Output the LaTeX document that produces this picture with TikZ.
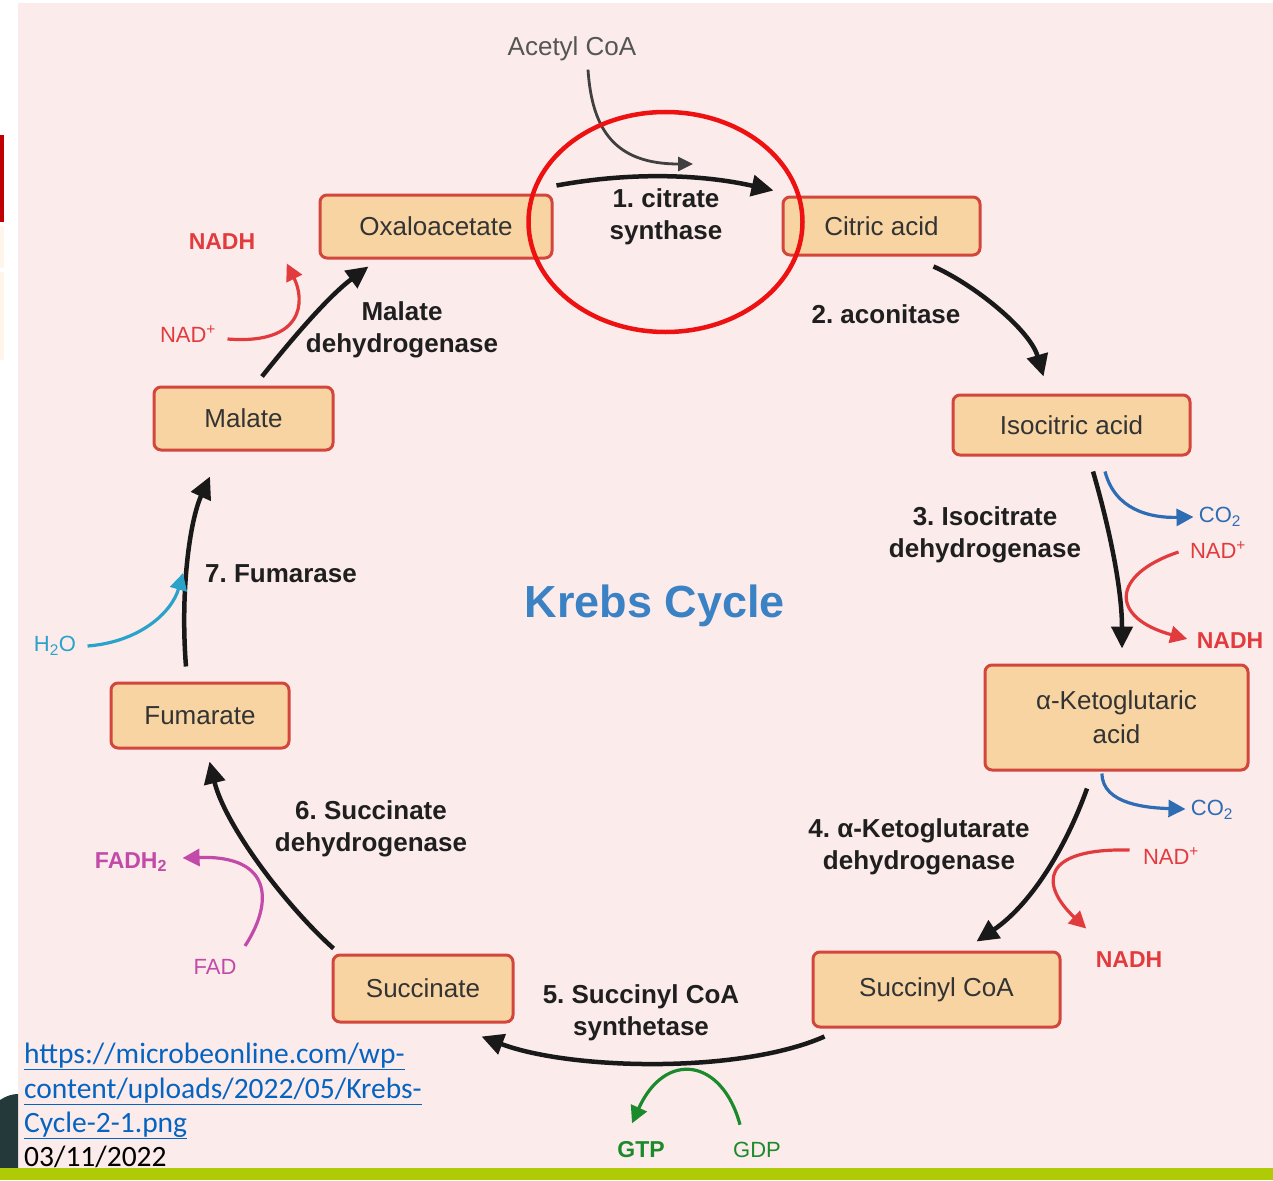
\documentclass[tikz,border=0pt]{standalone}
\usepackage{fontspec}
\setmainfont{Liberation Sans}
\newfontfamily\calib{Carlito}
\usetikzlibrary{arrows.meta,calc}
\definecolor{bgpink}{HTML}{FCEBEB}
\definecolor{boxfill}{HTML}{F7D4A2}
\definecolor{boxdraw}{HTML}{D2463C}
\definecolor{txtgray}{HTML}{333333}
\definecolor{nadred}{HTML}{E23B3E}
\definecolor{co2blue}{HTML}{2E6DB4}
\definecolor{h2ocyan}{HTML}{2AA2C9}
\definecolor{fadmag}{HTML}{C24AA8}
\definecolor{gtpgreen}{HTML}{1B8A2B}
\definecolor{krebsblue}{HTML}{3B82C4}
\definecolor{linkblue}{HTML}{0563C1}
\definecolor{barred}{HTML}{C00000}
\definecolor{greenbar}{HTML}{AECB05}
\definecolor{circred}{HTML}{EE1111}
\definecolor{acgray}{HTML}{555555}
\definecolor{darkpic}{HTML}{24393A}
\frenchspacing
\begin{document}
\begin{tikzpicture}[x=1pt,y=-1pt,
 mol/.style={draw=boxdraw, fill=boxfill, line width=3pt, rounded corners=7pt, text=txtgray, font=\fontsize{26}{34}\selectfont, align=center, inner sep=0pt},
 enz/.style={font=\bfseries\fontsize{26}{32}\selectfont, text=black!88, align=center},
 cyc/.style={line width=4.5pt, draw=black!90, -{Triangle[length=22pt,width=21pt]}},
 side/.style={line width=3.2pt, -{Triangle[length=17pt,width=17pt]}},
 sm/.style={font=\fontsize{22}{26}\selectfont},
 smb/.style={font=\bfseries\fontsize{23}{26}\selectfont},
 lnk/.style={font=\calib\fontsize{29.5}{35}\selectfont, text=linkblue, anchor=base west, inner sep=0pt},
]
\useasboundingbox (0,0) rectangle (1273,1180);
% backgrounds
\fill[white] (0,0) rectangle (1273,1180);
\fill[bgpink] (18,3) rectangle (1273,1168);
\fill[barred] (0,135) rectangle (4,222);
\fill[orange!8] (0,226) rectangle (4,268);
\fill[orange!8] (0,272) rectangle (4,360);
\fill[darkpic] (0,1100) .. controls (6,1096) and (12,1094) .. (18,1094) -- (18,1168) -- (0,1168) -- cycle;
\fill[greenbar] (0,1168) rectangle (1273,1180);

% molecules
\node[mol, minimum width=232pt, minimum height=63pt] (ox) at (436,226.5) {Oxaloacetate};
\node[mol, minimum width=197pt, minimum height=58pt] (cit) at (881.5,226) {Citric acid};
\node[mol, minimum width=237pt, minimum height=60pt] (iso) at (1071.5,425) {Isocitric acid};
\node[mol, minimum width=263pt, minimum height=105pt] (akg) at (1116.5,717.5) {α-Ketoglutaric\\acid};
\node[mol, minimum width=247pt, minimum height=75pt] (scoa) at (936.5,989.5) {Succinyl CoA};
\node[mol, minimum width=180pt, minimum height=67pt] (suc) at (423,988.5) {Succinate};
\node[mol, minimum width=178pt, minimum height=65pt] (fum) at (200,715.5) {Fumarate};
\node[mol, minimum width=179pt, minimum height=63pt] (mal) at (243.5,418.5) {Malate};

% enzymes
\node[enz] (e1) at (666,217) {1. citrate\\synthase};
\node[enz] (e2) at (886,314) {2. aconitase};
\node[enz] (e3) at (985,535) {3. Isocitrate\\dehydrogenase};
\node[enz] (e4) at (919,847) {4. α-Ketoglutarate\\dehydrogenase};
\node[enz] (e5) at (641,1013) {5. Succinyl CoA\\synthetase};
\node[enz] (e6) at (371,829) {6. Succinate\\dehydrogenase};
\node[enz] (e7) at (281,574) {7. Fumarase};
\node[enz] (e8) at (402,330) {Malate\\dehydrogenase};

\node[font=\bfseries\fontsize{45}{50}\selectfont, text=krebsblue] (title) at (655,606) {Krebs Cycle};

% cycle arrows
\draw[cyc] ($(ox.north east)+(3,-8)$) .. controls (630,172) and (700,174) .. ($(cit.north west)+(-8,-5)$);
\draw[cyc] ($(cit.south east)+(-48,10)$) .. controls (975,285) and (1030,330) .. ($(iso.north west)+(92,-17)$);
\draw[cyc] ($(iso.south)+(21.5,15)$) .. controls (1110,530) and (1122,590) .. ($(akg.north)+(5.5,-15)$);
\draw[cyc] ($(akg.south)+(-29.5,17)$) .. controls (1065,850) and (1030,905) .. ($(scoa.north west)+(165,-9)$);
\draw[cyc] ($(scoa.south west)+(13,8)$) .. controls (740,1074) and (570,1070) .. ($(suc.south east)+(-33,13)$);
\draw[cyc] ($(suc.north west)+(2,-5)$) .. controls (285,905) and (225,825) .. ($(fum.south east)+(-81,12)$);
\draw[cyc] ($(fum.north)+(-14,-15)$) .. controls (180,590) and (190,520) .. ($(mal.south)+(-33.5,25)$);
\draw[cyc] ($(mal.north)+(18.5,-9)$) .. controls (295,335) and (330,295) .. ($(ox.south west)+(50,7)$);

% acetyl CoA
\node[font=\fontsize{26}{30}\selectfont, text=acgray] (acetyl) at (572,49) {Acetyl CoA};
\coordinate (acin) at (693,164);
\draw[line width=2.8pt, black!75, -{Triangle[length=15pt,width=14pt]}] ($(acetyl.south)+(16,5)$) .. controls (592,130) and (615,164) .. (acin);

% side reactions: malate dehydrogenase
\node[smb, text=nadred] (nadh1) at (222,242) {NADH};
\node[sm, text=nadred] (nad1) at (188,334) {NAD\textsuperscript{+}};
\draw[side, nadred] ($(nad1.east)+(8,5)$) .. controls (305,345) and (305,300) .. ($(nadh1.south east)+(28,10)$);

% fumarase
\node[sm, text=h2ocyan] (h2o) at (55,646) {H\textsubscript{2}O};
\draw[side, h2ocyan] ($(h2o.east)+(8,0)$) .. controls (140,642) and (172,612) .. (183,573);

% succinate dehydrogenase
\node[smb, text=fadmag] (fadh2) at (131,862) {FADH\textsubscript{2}};
\node[sm, text=fadmag] (fad) at (215,967) {FAD};
\draw[side, fadmag] ($(fad.north)+(30,-10)$) .. controls (272,905) and (275,855) .. ($(fadh2.east)+(12,-4)$);

% succinyl CoA synthetase
\node[smb, text=gtpgreen] (gtp) at (641,1150) {GTP};
\node[sm, text=gtpgreen] (gdp) at (757,1150) {GDP};
\draw[side, gtpgreen] ($(gdp.north)+(-17,-14)$) .. controls (722,1058) and (665,1050) .. ($(gtp.north)+(-9,-15)$);

% isocitrate dehydrogenase
\node[sm, text=co2blue] (co2a) at (1220,517) {CO\textsubscript{2}};
\draw[side, co2blue] ($(iso.south)+(33.5,15)$) .. controls (1115,510) and (1150,518) .. ($(co2a.west)+(-2,0)$);
\node[sm, text=nadred] (nad3) at (1218,550) {NAD\textsuperscript{+}};
\node[smb, text=nadred] (nadh3) at (1230,641) {NADH};
\draw[side, nadred] ($(nad3.west)+(-8,2)$) .. controls (1110,575) and (1110,618) .. ($(nadh3.west)+(-6,-2)$);

% alpha-ketoglutarate dehydrogenase
\node[sm, text=co2blue] (co2b) at (1212,810) {CO\textsubscript{2}};
\draw[side, co2blue] ($(akg.south)+(-14.5,2)$) .. controls (1102,805) and (1150,808) .. ($(co2b.west)+(-2,-1)$);
\node[sm, text=nadred] (nad4) at (1171,856) {NAD\textsuperscript{+}};
\node[smb, text=nadred] (nadh4) at (1129,960) {NADH};
\draw[side, nadred] ($(nad4.west)+(-10,-6)$) .. controls (1040,848) and (1040,885) .. ($(nadh4.north west)+(-6,-20)$);

% highlight ellipse
\draw[circred, line width=4.5pt] (665.5,222) ellipse [x radius=137, y radius=110];

% source note
\node[lnk] (l1) at (24,1063) {\underline{https://microbeonline.com/wp-}};
\node[lnk] (l2) at (24,1098) {\underline{content/uploads/2022/05/Krebs-}};
\node[lnk] (l3) at (24,1132) {\underline{Cycle-2-1.png}};
\node[lnk, text=black] (l4) at (24,1166) {03/11/2022};
\end{tikzpicture}
\end{document}
